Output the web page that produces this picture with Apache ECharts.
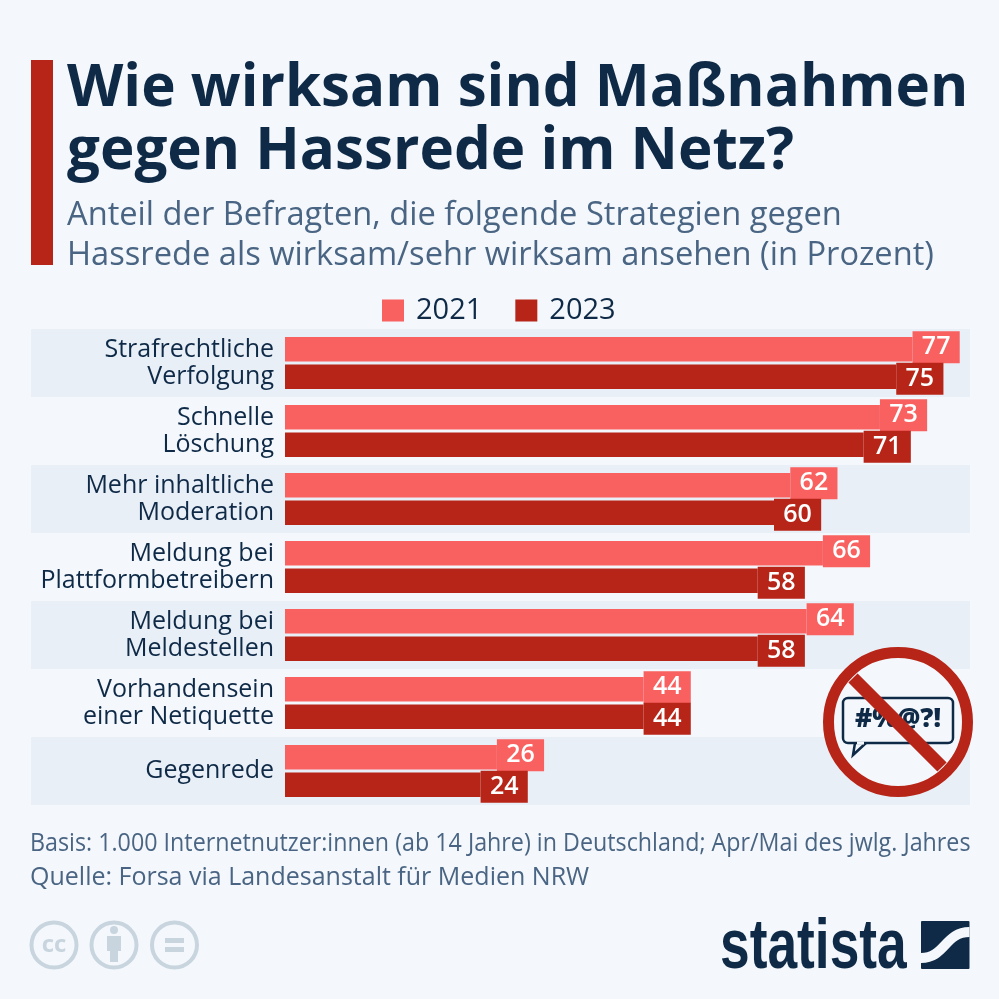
<!DOCTYPE html>
<html>
<head>
<meta charset="utf-8">
<style>html,body{margin:0;padding:0;background:#f4f8fc}#main{width:999px;height:999px}</style>
<script src="https://cdn.jsdelivr.net/npm/echarts@6/dist/echarts.min.js"></script>
</head>
<body>
<div id="main"></div>
<script>
var categories = ['Strafrechtliche\nVerfolgung', 'Schnelle\nLöschung', 'Mehr inhaltliche\nModeration', 'Meldung bei\nPlattformbetreibern', 'Meldung bei\nMeldestellen', 'Vorhandensein\neiner Netiquette', 'Gegenrede'];
var values2021 = [77, 73, 62, 66, 64, 44, 26];
var values2023 = [75, 71, 60, 58, 58, 44, 24];

var myChart = echarts.init(document.getElementById('main'));

var navy = '#0f2a47', slate = '#4a6583', salmon = '#f96161', red = '#b72518', bg = '#f4f8fc', band = '#e9eff7', grey = '#c8d5de';
var font = '"Open Sans"';

function bar(name, data, color, dy) {
    return {
        name: name,
        type: 'bar',
        barWidth: 24.5,
        barGap: '12%',
        data: data,
        itemStyle: { color: color },
        label: {
            show: true,
            position: 'right',
            distance: 0,
            offset: [0, dy],
            color: '#fff',
            fontFamily: font,
            fontSize: 25,
            fontWeight: 600,
            lineHeight: 32,
            padding: [0, 9.3],
            backgroundColor: color
        }
    };
}

// graue Streifen hinter den Zeilen
var graphics = [];
for (var i = 0; i < categories.length; i += 2) {
    graphics.push({ type: 'rect', z: -1, shape: { x: 31, y: 329 + i * 68, width: 939, height: 68 }, style: { fill: band } });
}
graphics.push({ type: 'rect', shape: { x: 31, y: 60, width: 22, height: 205 }, style: { fill: red } });

// Verbotsschild
graphics.push({ type: 'circle', z: 10, shape: { cx: 898, cy: 722, r: 69.5 }, style: { fill: bg, stroke: red, lineWidth: 11 } });
graphics.push({ type: 'polyline', z: 10, shape: { points: [[866, 743], [853, 755], [855, 743]] }, style: { fill: bg, stroke: navy, lineWidth: 2.5 } });
graphics.push({ type: 'rect', z: 10, shape: { x: 843, y: 698, width: 110, height: 45, r: 5 }, style: { fill: bg, stroke: navy, lineWidth: 2.5 } });
graphics.push({ type: 'line', z: 10, shape: { x1: 857, y1: 743, x2: 864, y2: 743 }, style: { stroke: bg, lineWidth: 3 } });
graphics.push({ type: 'text', z: 10, style: { x: 898, y: 720, text: '#%@?!', fill: navy, font: '800 26px ' + font, textAlign: 'center', textVerticalAlign: 'middle' } });
graphics.push({ type: 'line', z: 10, shape: { x1: 853, y1: 678, x2: 942, y2: 767 }, style: { stroke: red, lineWidth: 13 } });

// Fussnote, erste Zeile enger gesetzt
graphics.push({ type: 'text', x: 30, y: 843.5, scaleX: 0.931, style: { x: 0, y: 0, text: 'Basis: 1.000 Internetnutzer:innen (ab 14 Jahre) in Deutschland; Apr/Mai des jwlg. Jahres', fill: slate, font: '400 25px ' + font, textAlign: 'left', textVerticalAlign: 'middle' } });

// CC-Symbole
[54, 114, 174.5].forEach(function (cx) {
    graphics.push({ type: 'circle', shape: { cx: cx, cy: 945, r: 22.5 }, style: { fill: 'none', stroke: grey, lineWidth: 4 } });
});
graphics.push({ type: 'text', style: { x: 54, y: 945, text: 'cc', fill: grey, font: '700 24px ' + font, textAlign: 'center', textVerticalAlign: 'middle' } });
graphics.push({ type: 'circle', shape: { cx: 114, cy: 930, r: 4 }, style: { fill: grey } });
graphics.push({ type: 'rect', shape: { x: 107, y: 936, width: 14, height: 15 }, style: { fill: grey } });
graphics.push({ type: 'rect', shape: { x: 110, y: 950, width: 8, height: 12 }, style: { fill: grey } });
graphics.push({ type: 'rect', shape: { x: 165, y: 938, width: 19, height: 5 }, style: { fill: grey } });
graphics.push({ type: 'rect', shape: { x: 165, y: 947, width: 19, height: 5 }, style: { fill: grey } });

// Statista-Logo
graphics.push({ type: 'text', x: 720, y: 984, scaleX: 0.762, style: { x: 0, y: 0, text: 'statista', fill: navy, font: 'bold 70px "Liberation Sans"', textAlign: 'left', textVerticalAlign: 'bottom', lineHeight: 70 } });
graphics.push({ type: 'rect', shape: { x: 921, y: 921, width: 48.5, height: 48, r: 1 }, style: { fill: navy } });
graphics.push({ type: 'bezierCurve', shape: { x1: 969.5, y1: 932, cpx1: 945, cpy1: 932, cpx2: 945, cpy2: 958, x2: 921, y2: 958 }, style: { fill: 'none', stroke: bg, lineWidth: 10 } });

option = {
    backgroundColor: bg,
    animation: false,
    title: [
        { text: 'Wie wirksam sind Maßnahmen\ngegen Hassrede im Netz?', left: 67, top: 58, padding: 0, textStyle: { fontFamily: font, fontSize: 58.3, fontWeight: 700, color: navy, lineHeight: 63 } },
        { text: 'Anteil der Befragten, die folgende Strategien gegen\nHassrede als wirksam/sehr wirksam ansehen (in Prozent)', left: 67, top: 196, padding: 0, textStyle: { fontFamily: font, fontSize: 32.65, fontWeight: 400, color: slate, lineHeight: 40 } },
        { text: 'Quelle: Forsa via Landesanstalt für Medien NRW', left: 30, top: 860, padding: 0, textStyle: { fontFamily: font, fontSize: 25, fontWeight: 400, color: slate, lineHeight: 35 } }
    ],
    legend: {
        left: 377,
        top: 291,
        itemWidth: 22,
        itemHeight: 22,
        itemGap: 33,
        selectedMode: false,
        textStyle: { fontFamily: font, fontSize: 29, color: navy, padding: [0, 0, 0, 7] },
        data: [
            { name: '2021', icon: 'rect' },
            { name: '2023', icon: 'rect' }
        ]
    },
    grid: { left: 285, top: 329, width: 685, height: 476 },
    xAxis: { type: 'value', min: 0, max: 84.05, show: false },
    yAxis: {
        type: 'category',
        inverse: true,
        data: categories,
        axisLine: { show: false },
        axisTick: { show: false },
        axisLabel: { margin: 11, fontFamily: font, fontSize: 25, color: navy, lineHeight: 27, align: 'right' }
    },
    graphic: graphics,
    series: [
        bar('2021', values2021, salmon, -2),
        bar('2023', values2023, red, 2)
    ]
};

myChart.setOption(option);
</script>
</body>
</html>
